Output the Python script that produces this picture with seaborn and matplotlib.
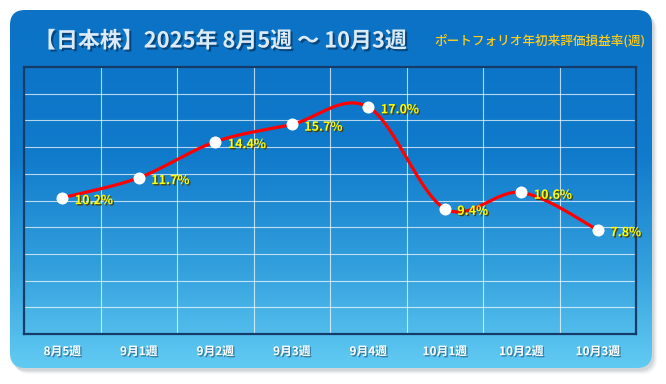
import numpy as np
import pandas as pd
import matplotlib
matplotlib.use("Agg")
import matplotlib.pyplot as plt
import matplotlib.patheffects as pe
from matplotlib.patches import FancyBboxPatch
from matplotlib.colors import LinearSegmentedColormap
import seaborn as sns

# ---- data ----
weeks = ["8月5週", "9月1週", "9月2週", "9月3週", "9月4週", "10月1週", "10月2週", "10月3週"]
returns = [10.2, 11.7, 14.4, 15.7, 17.0, 9.4, 10.6, 7.8]
title = "【日本株】2025年 8月5週 ～ 10月3週"
subtitle = "ポートフォリオ年初来評価損益率(週)"

sns.set_theme(style="white")
plt.rcParams['font.family'] = ['Noto Sans CJK JP', 'DejaVu Sans']

W, H = 666, 384
fig = plt.figure(figsize=(W / 100, H / 100), dpi=100)
fig.patch.set_facecolor("white")

# ---- background panel ----
bg = fig.add_axes([0, 0, 1, 1])
bg.set_xlim(0, W)
bg.set_ylim(H, 0)
bg.axis("off")

bx, by, bw, bh = 10, 10, 642, 358
for k, a in enumerate([0.05, 0.06, 0.08, 0.10]):
    off = 5 - k
    sh = FancyBboxPatch((bx + off, by + off + 1), bw, bh,
                        boxstyle="round,pad=0,rounding_size=15",
                        facecolor="#5a6470", edgecolor="none", alpha=a)
    bg.add_patch(sh)

box = FancyBboxPatch((bx, by), bw, bh, boxstyle="round,pad=0,rounding_size=15",
                     facecolor="none", edgecolor="none")
bg.add_patch(box)
cmap = LinearSegmentedColormap.from_list(
    "g", [(0.0, "#0b72c5"), (0.4, "#107acb"), (0.72, "#33a0dd"), (1.0, "#62cbf3")])
grad = np.linspace(0, 1, 256).reshape(-1, 1)
im = bg.imshow(grad, extent=(bx, bx + bw, by + bh, by), aspect="auto", cmap=cmap,
               interpolation="bicubic", zorder=1)
im.set_clip_path(box)

shadow_fx = [pe.withSimplePatchShadow(offset=(1.5, -1.5), shadow_rgbFace="#06345e", alpha=0.7)]
bg.text(34, 41, title, fontsize=15.8, fontweight="bold", color="#dbeaf7",
        ha="left", va="center", zorder=5, path_effects=shadow_fx)
bg.text(434, 41, subtitle, fontsize=9.1, color="#ffcc1a", ha="left", va="center",
        zorder=5, style="italic", fontweight="medium")

# ---- main chart ----
ax = fig.add_axes([24 / W, (H - 334) / H, (636 - 24) / W, (334 - 67) / H])
ax.set_facecolor("none")

x = np.arange(len(returns))
y = np.array(returns)

# smoothed curve (Catmull-Rom, like Excel's smoothed line)
P = np.column_stack([x, y]).astype(float)
Pp = np.vstack([P[0], P, P[-1]])
xs, ys = [], []
for i in range(len(P) - 1):
    p0, p1, p2, p3 = Pp[i], Pp[i + 1], Pp[i + 2], Pp[i + 3]
    m1 = (p2 - p0) / 2
    m2 = (p3 - p1) / 2
    t = np.linspace(0, 1, 40)[:, None]
    h00 = 2 * t**3 - 3 * t**2 + 1
    h10 = t**3 - 2 * t**2 + t
    h01 = -2 * t**3 + 3 * t**2
    h11 = t**3 - t**2
    c = h00 * p1 + h10 * m1 + h01 * p2 + h11 * m2
    xs.append(c[:, 0]); ys.append(c[:, 1])
curve = pd.DataFrame({"x": np.concatenate(xs), "y": np.concatenate(ys)})
pts = pd.DataFrame({"x": x, "y": y})

sns.lineplot(data=curve, x="x", y="y", ax=ax, color="#ff0000", linewidth=2.3,
             sort=False, zorder=3)
sns.scatterplot(data=pts, x="x", y="y", ax=ax, color="white", s=75,
                edgecolor="white", linewidth=0, zorder=4)

label_fx = [pe.withSimplePatchShadow(offset=(1, -1), shadow_rgbFace="#4a3c00", alpha=0.9)]
for xi, yi in zip(x, y):
    ax.annotate(f"{yi:.1f}%", (xi, yi), xytext=(9, -2), textcoords="offset points",
                ha="left", va="center", fontsize=9, fontweight="bold",
                color="#ffff00", zorder=5, path_effects=label_fx)

ax.set_xlim(-0.5, len(returns) - 0.5)
ax.set_ylim(0, 20)
ax.set_xticks(x)
ax.set_xticklabels(weeks)
ax.set_yticks(np.arange(0, 21, 2))
ax.set_yticklabels([])
ax.grid(False)
for v in np.arange(0.5, len(returns) - 1, 1):
    ax.axvline(v, color="white", alpha=0.7, lw=0.8, zorder=1)
for v in np.arange(2, 20, 2):
    ax.axhline(v, color="white", alpha=0.7, lw=0.8, zorder=1)
ax.set_xlabel("")
ax.set_ylabel("")
ax.tick_params(axis="both", which="both", length=0)
ax.tick_params(axis="x", pad=8, labelsize=8.5, labelcolor="white")
for lbl in ax.get_xticklabels():
    lbl.set_fontweight("bold")
    lbl.set_path_effects([pe.withSimplePatchShadow(offset=(1, -1), shadow_rgbFace="#2a6a90", alpha=0.8)])
for s in ax.spines.values():
    s.set_visible(True)
    s.set_color("#153c68")
    s.set_linewidth(1.6)

fig.savefig("out.png", dpi=100)
